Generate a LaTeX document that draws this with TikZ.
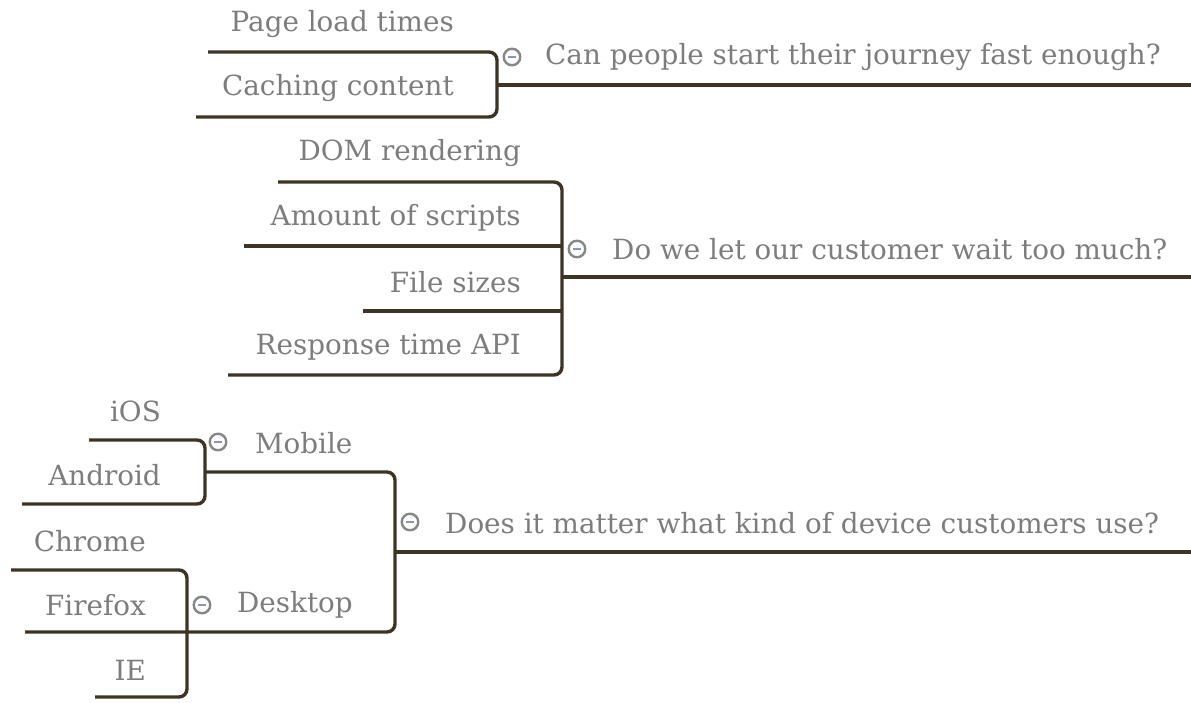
\documentclass[tikz,border=0pt]{standalone}
\usepackage{fontspec}
\setmainfont{DejaVu Serif}
\definecolor{txt}{RGB}{125,125,125}
\definecolor{ln}{RGB}{62,52,38}
\definecolor{mk}{RGB}{135,135,135}
\definecolor{mn}{RGB}{140,150,185}
\begin{document}
\begin{tikzpicture}[x=1pt,y=-1pt,
  lbl/.style={font=\fontsize{27.8}{30}\selectfont, text=txt, inner sep=0pt},
  leaf/.style={lbl, anchor=east},
  topic/.style={lbl, anchor=west},
  conn/.style={draw=ln, line width=3.4pt, rounded corners=8pt},
  trunk/.style={draw=ln, line width=3.2pt},
  marker/.style={circle, draw=mk, line width=2.4pt, minimum size=16.5pt, inner sep=0pt},
  minus/.style={draw=mn, line width=1.8pt}]
\useasboundingbox (0,0) rectangle (1191,703);
% ---------- branch 1
\coordinate (b1v) at (497,85);
\coordinate (b1end) at (1191,85);
\coordinate (pl) at (208,52);
\coordinate (cc) at (196,117);
\node[leaf] (tpl) at (454,24) {Page load times};
\node[leaf] (tcc) at (454,88) {Caching content};
\node[marker] (m1) at (512,57) {};
\draw[minus] ([xshift=-4pt]m1.center) -- ([xshift=4pt]m1.center);
\node[topic] (t1) at (545,57) {Can people start their journey fast enough?};
\draw[conn] (pl) -- (pl -| b1v) -- (cc -| b1v) -- (cc);
\draw[trunk] (b1v) -- (b1end);
% ---------- branch 2
\coordinate (b2v) at (562,277);
\coordinate (b2end) at (1191,277);
\coordinate (dom) at (278,182);
\coordinate (aos) at (244,246);
\coordinate (fs) at (363,311);
\coordinate (rta) at (228,375);
\node[leaf] (tdom) at (521,153) {DOM rendering};
\node[leaf] (taos) at (521,218) {Amount of scripts};
\node[leaf] (tfs) at (521,282) {File sizes};
\node[leaf] (trta) at (521,347) {Response time API};
\node[marker] (m2) at (577,249) {};
\draw[minus] ([xshift=-4pt]m2.center) -- ([xshift=4pt]m2.center);
\node[topic] (t2) at (612,249) {Do we let our customer wait too much?};
\draw[conn] (dom) -- (dom -| b2v) -- (rta -| b2v) -- (rta);
\draw[conn] (aos) -- (aos -| b2v);
\draw[conn] (fs) -- (fs -| b2v);
\draw[trunk] (b2v) -- (b2end);
% ---------- branch 3
\coordinate (b3v) at (395,552);
\coordinate (b3end) at (1191,552);
\coordinate (mob) at (205,472);
\coordinate (desk) at (187,632);
\coordinate (ffx) at (25,632);
\coordinate (ios) at (89,440);
\coordinate (and) at (22,504);
\coordinate (chr) at (11,570);
\coordinate (ie) at (95,697);
\node[marker] (m3) at (410,522) {};
\draw[minus] ([xshift=-4pt]m3.center) -- ([xshift=4pt]m3.center);
\node[topic] (t3) at (445,523) {Does it matter what kind of device customers use?};
\draw[conn] (mob) -- (mob -| b3v) -- (ffx -| b3v) -- (ffx);
\draw[trunk] (b3v) -- (b3end);
% mobile
\node[marker] (m4) at (218,442) {};
\draw[minus] ([xshift=-4pt]m4.center) -- ([xshift=4pt]m4.center);
\node[topic] (tmob) at (255,443) {Mobile};
\node[leaf] (tios) at (161,411) {iOS};
\node[leaf] (tand) at (161,475) {Android};
\draw[conn] (ios) -- (ios -| mob) -- (and -| mob) -- (and);
% desktop
\node[marker] (m5) at (202,605) {};
\draw[minus] ([xshift=-4pt]m5.center) -- ([xshift=4pt]m5.center);
\node[topic] (tdesk) at (237,605) {Desktop};
\node[leaf] (tchr) at (146,541) {Chrome};
\node[leaf] (tffx) at (146,605) {Firefox};
\node[leaf] (tie) at (146,670) {IE};
\draw[conn] (chr) -- (chr -| desk) -- (ie -| desk) -- (ie);
\end{tikzpicture}
\end{document}
